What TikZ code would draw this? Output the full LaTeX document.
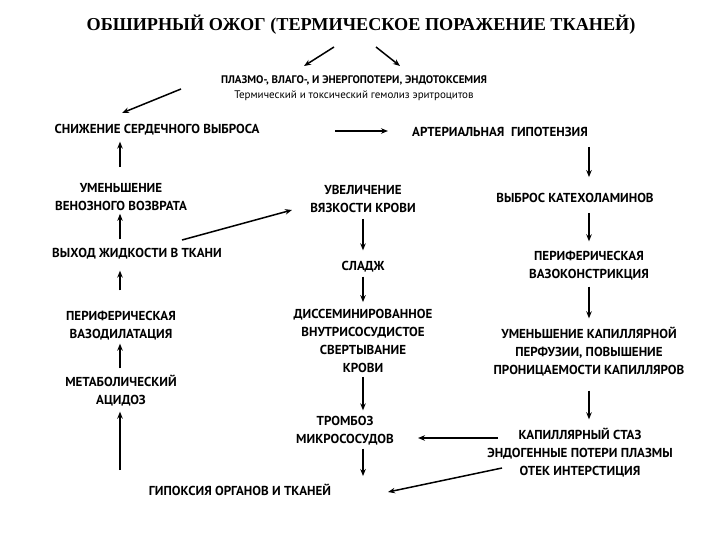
\documentclass[tikz,border=0pt]{standalone}
\usepackage{fontspec}
\setmainfont{PT Sans}
\newfontfamily\titlefont{Liberation Serif}
\usetikzlibrary{arrows.meta}
\begin{document}
\begin{tikzpicture}[x=1pt,y=-1pt,
  lbl/.style={font=\bfseries\fontsize{13}{18}\selectfont,align=center,inner sep=1pt},
  arr/.style={line width=1.5pt,-{Stealth[length=7pt,width=5.5pt]}}]
\useasboundingbox (0,0) rectangle (720,540);
\fill[white] (0,0) rectangle (720,540);
\node[font=\titlefont\bfseries\fontsize{18.2}{18}\selectfont] (title) at (361,25) {ОБШИРНЫЙ ОЖОГ (ТЕРМИЧЕСКОЕ ПОРАЖЕНИЕ ТКАНЕЙ)};
\node[align=center,font=\fontsize{11}{15}\selectfont,inner sep=1pt] (plasma) at (354,88) {\textbf{ПЛАЗМО-, ВЛАГО-, И ЭНЕРГОПОТЕРИ, ЭНДОТОКСЕМИЯ}\\Термический и токсический гемолиз эритроцитов};
\coordinate (t1) at (334,47); \coordinate (t1e) at (304,66);
\coordinate (t2) at (376,47); \coordinate (t2e) at (400,66);
\draw[arr] (t1) -- (t1e);
\draw[arr] (t2) -- (t2e);
\node[lbl] (snizh) at (157,130) {СНИЖЕНИЕ СЕРДЕЧНОГО ВЫБРОСА};
\coordinate (p1) at (181,89); \coordinate (p1e) at (122,113);
\draw[arr] (p1) -- (p1e);
\node[lbl] (arter) at (500,132) {АРТЕРИАЛЬНАЯ \ ГИПОТЕНЗИЯ};
\coordinate (h1) at (335,131); \coordinate (h1e) at (388,131);
\draw[arr] (h1) -- (h1e);
\node[lbl] (vybros) at (575,198) {ВЫБРОС КАТЕХОЛАМИНОВ};
\node[lbl] (vazok) at (589,266) {ПЕРИФЕРИЧЕСКАЯ\\ВАЗОКОНСТРИКЦИЯ};
\node[lbl] (umkap) at (589,352) {УМЕНЬШЕНИЕ КАПИЛЛЯРНОЙ\\ПЕРФУЗИИ, ПОВЫШЕНИЕ\\ПРОНИЦАЕМОСТИ КАПИЛЛЯРОВ};
\node[lbl] (staz) at (580,453) {КАПИЛЛЯРНЫЙ СТАЗ\\ЭНДОГЕННЫЕ ПОТЕРИ ПЛАЗМЫ\\ОТЕК ИНТЕРСТИЦИЯ};
\draw[arr,shorten <=9pt,shorten >=15pt] (arter.south -| 589,0) -- (vybros.north -| 589,0);
\draw[arr,shorten <=9pt,shorten >=9pt] (vybros.south -| 589,0) -- (vazok.north -| 589,0);
\draw[arr,shorten <=5pt,shorten >=8pt] (vazok.south -| 589,0) -- (umkap.north -| 589,0);
\draw[arr,shorten <=13pt,shorten >=8pt] (umkap.south -| 589,0) -- (staz.north -| 589,0);
\node[lbl] (uvel) at (363,199) {УВЕЛИЧЕНИЕ\\ВЯЗКОСТИ КРОВИ};
\node[lbl] (sladzh) at (363,267) {СЛАДЖ};
\node[lbl] (dvs) at (363,341) {ДИССЕМИНИРОВАННОЕ\\ВНУТРИСОСУДИСТОЕ\\СВЕРТЫВАНИЕ\\КРОВИ};
\node[lbl] (tromb) at (345,431) {ТРОМБОЗ\\МИКРОСОСУДОВ};
\node[lbl] (gipox) at (240,490) {ГИПОКСИЯ ОРГАНОВ И ТКАНЕЙ};
\draw[arr,shorten <=5pt,shorten >=10pt] (uvel.south -| 363,0) -- (sladzh.north -| 363,0);
\draw[arr,shorten <=3pt,shorten >=6pt] (sladzh.south -| 363,0) -- (dvs.north -| 363,0);
\draw[arr,shorten <=3pt,shorten >=5pt] (dvs.south -| 363,0) -- (tromb.north -| 363,0);
\draw[arr,shorten <=2pt,shorten >=7pt] (tromb.south -| 363,0) -- (gipox.north -| 363,0);
\coordinate (s1) at (498,438); \coordinate (s1e) at (418,438);
\draw[arr] (s1) -- (s1e);
\coordinate (s2) at (502,468); \coordinate (s2e) at (388,492);
\draw[arr] (s2) -- (s2e);
\node[lbl] (umven) at (121,197) {УМЕНЬШЕНИЕ\\ВЕНОЗНОГО ВОЗВРАТА};
\node[lbl] (vyhod) at (137,254) {ВЫХОД ЖИДКОСТИ В ТКАНИ};
\node[lbl] (vazod) at (121,326) {ПЕРИФЕРИЧЕСКАЯ\\ВАЗОДИЛАТАЦИЯ};
\node[lbl] (metab) at (121,391) {МЕТАБОЛИЧЕСКИЙ\\АЦИДОЗ};
\draw[arr,shorten <=15pt,shorten >=5pt] (umven.north -| 120,0) -- (snizh.south -| 120,0);
\draw[arr,shorten <=8pt,shorten >=2pt] (vyhod.north -| 120,0) -- (umven.south -| 120,0);
\draw[arr,shorten <=20pt,shorten >=10pt] (vazod.north -| 120,0) -- (vyhod.south -| 120,0);
\draw[arr,shorten <=6pt,shorten >=2pt] (metab.north -| 120,0) -- (vazod.south -| 120,0);
\coordinate (m1) at (120,470);
\draw[arr,shorten >=4pt] (m1) -- (metab.south -| 120,0);
\coordinate (v1) at (182,240); \coordinate (v1e) at (292,210);
\draw[arr] (v1) -- (v1e);
\end{tikzpicture}
\end{document}
